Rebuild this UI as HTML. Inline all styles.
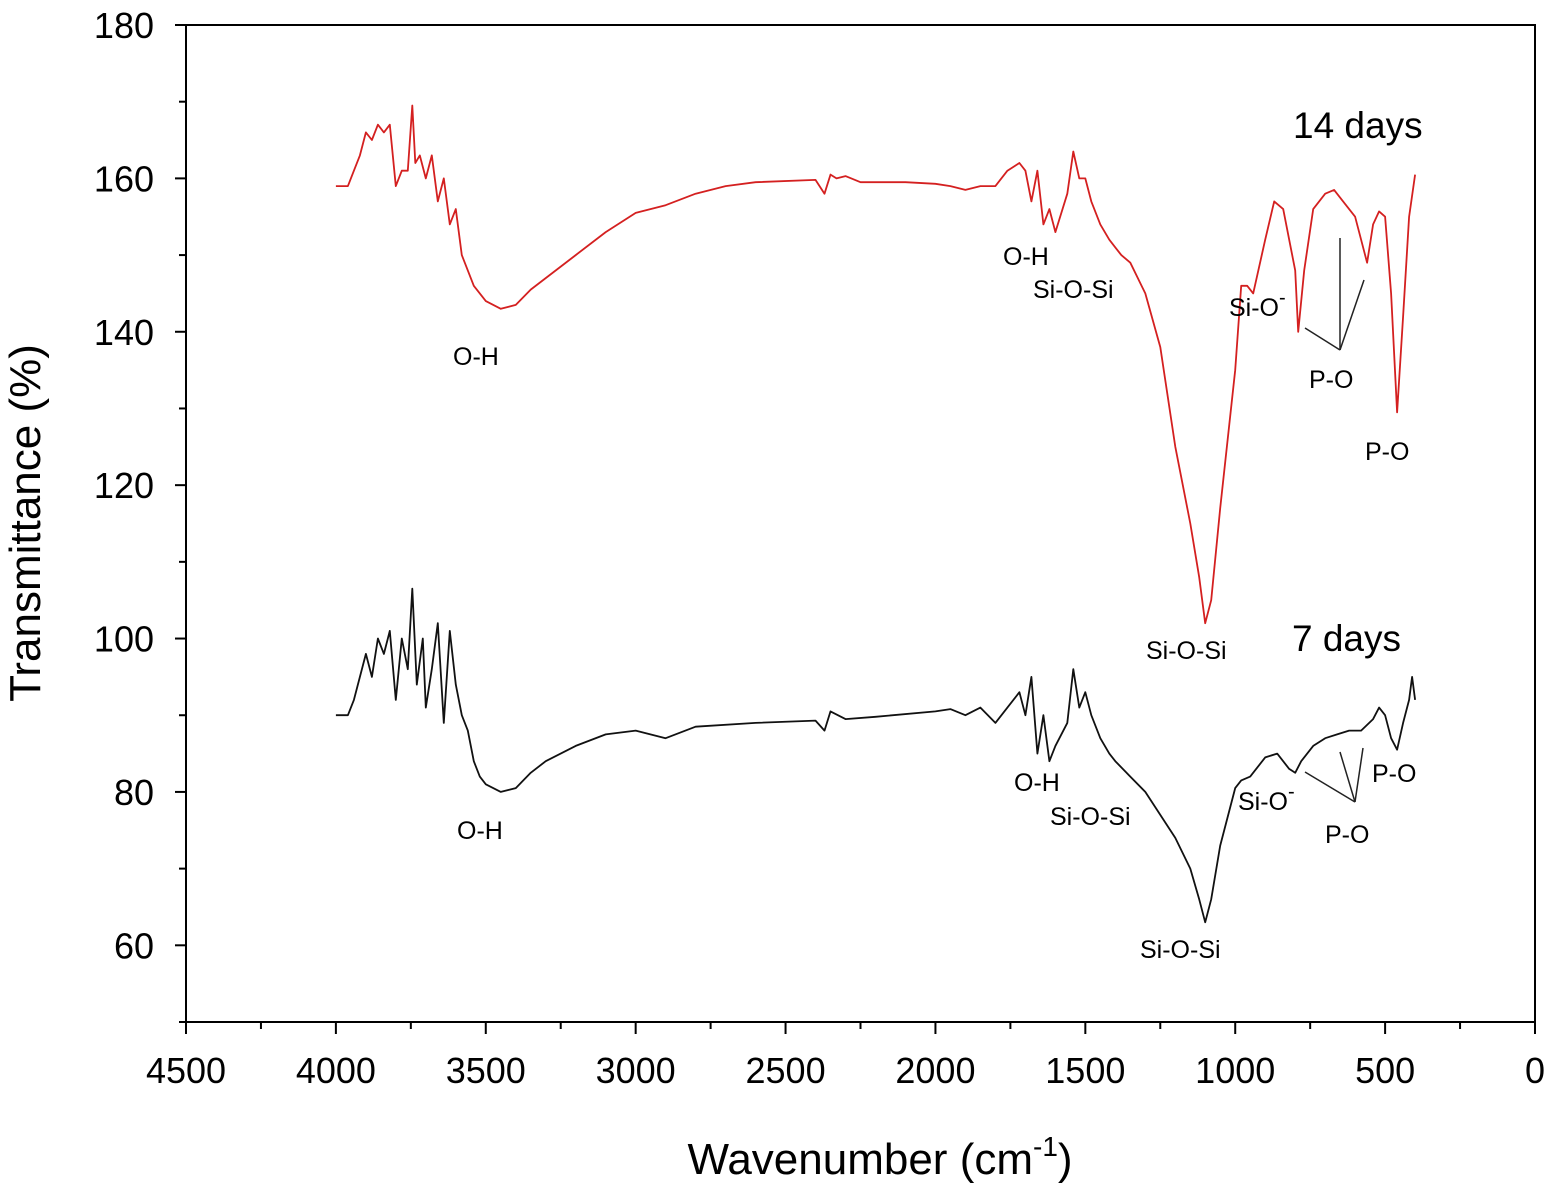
<!DOCTYPE html>
<html><head><meta charset="utf-8"><style>
body{margin:0;background:#fff}
svg text{font-family:"Liberation Sans",Arial,sans-serif;fill:#000}
</style></head><body>
<svg id="chart" width="1549" height="1185" xmlns="http://www.w3.org/2000/svg">
<rect x="186" y="25" width="1349" height="997" fill="none" stroke="#000" stroke-width="2"/>
<g id="ticks"></g>
<g id="series"></g>
<text x="40" y="523" font-size="44" text-anchor="middle" transform="rotate(-90 40 523)">Transmittance (%)</text>
<text x="880" y="1174" font-size="44" text-anchor="middle">Wavenumber (cm<tspan dy="-18" font-size="28">-1</tspan><tspan dy="18">)</tspan></text>
<g font-size="25">
<text x="1293" y="138" font-size="37">14 days</text>
<text x="1292" y="651" font-size="37">7 days</text>
<text x="453" y="365">O-H</text>
<text x="1003" y="265">O-H</text>
<text x="1033" y="298">Si-O-Si</text>
<text x="1229" y="316">Si-O<tspan dy="-12" font-size="20">-</tspan></text>
<text x="1309" y="388">P-O</text>
<text x="1365" y="460">P-O</text>
<text x="1146" y="659">Si-O-Si</text>
<text x="457" y="839">O-H</text>
<text x="1014" y="791">O-H</text>
<text x="1050" y="825">Si-O-Si</text>
<text x="1238" y="810">Si-O<tspan dy="-12" font-size="20">-</tspan></text>
<text x="1325" y="843">P-O</text>
<text x="1372" y="782">P-O</text>
<text x="1140" y="958">Si-O-Si</text>
<g stroke="#222" stroke-width="1.5" fill="none">
<line x1="1340" y1="238" x2="1340" y2="350"/><line x1="1305" y1="328" x2="1340" y2="350"/><line x1="1340" y1="350" x2="1364" y2="280"/>
<line x1="1355" y1="802" x2="1305" y2="772"/><line x1="1355" y1="802" x2="1340" y2="752"/><line x1="1355" y1="802" x2="1363" y2="748"/>
</g></g>
</svg>
<script>
const xTicks=[4500,4000,3500,3000,2500,2000,1500,1000,500,0];
const yTicks=[60,80,100,120,140,160,180];
const redWn=[4000,3960,3940,3920,3900,3880,3860,3840,3820,3800,3780,3760,3745,3735,3720,3700,3680,3660,3640,3620,3600,3580,3560,3540,3500,3450,3400,3350,3300,3200,3100,3000,2900,2800,2700,2600,2400,2370,2350,2330,2300,2250,2100,2000,1950,1900,1850,1800,1760,1720,1700,1680,1660,1640,1620,1600,1560,1540,1520,1500,1480,1450,1420,1400,1380,1350,1300,1250,1200,1150,1120,1100,1080,1050,1000,980,960,940,900,870,840,800,790,770,740,700,670,640,600,580,560,540,520,500,480,460,440,420,400];
const redT=[159,159,161,163,166,165,167,166,167,159,161,161,169.5,162,163,160,163,157,160,154,156,150,148,146,144,143,143.5,145.5,147,150,153,155.5,156.5,158,159,159.5,159.8,158,160.5,160,160.3,159.5,159.5,159.3,159,158.5,159,159,161,162,161,157,161,154,156,153,158,163.5,160,160,157,154,152,151,150,149,145,138,125,115,108,102,105,117,135,146,146,145,152,157,156,148,140,148,156,158,158.5,157,155,152,149,154,155.7,155,145,129.5,142,155,160.5];
const blackWn=[4000,3960,3940,3920,3900,3880,3860,3840,3820,3800,3780,3760,3745,3730,3710,3700,3680,3660,3640,3620,3600,3580,3560,3540,3520,3500,3450,3400,3350,3300,3200,3100,3000,2900,2800,2600,2400,2370,2350,2300,2200,2000,1950,1900,1850,1800,1760,1720,1700,1680,1660,1640,1620,1600,1560,1540,1520,1500,1480,1450,1420,1400,1350,1300,1250,1200,1150,1120,1100,1080,1050,1000,980,950,900,860,820,800,780,740,700,660,620,580,540,520,500,480,460,440,420,410,400];
const blackT=[90,90,92,95,98,95,100,98,101,92,100,96,106.5,94,100,91,96,102,89,101,94,90,88,84,82,81,80,80.5,82.5,84,86,87.5,88,87,88.5,89,89.3,88,90.5,89.5,89.8,90.5,90.8,90,91,89,91,93,90,95,85,90,84,86,89,96,91,93,90,87,85,84,82,80,77,74,70,66,63,66,73,80.5,81.5,82,84.5,85,83,82.5,84,86,87,87.5,88,88,89.5,91,90,87,85.5,89,92,95,92];
const X=w=>186+(4500-w)*1349/4500;
const Y=v=>25+(180-v)*(997/130);
const ns="http://www.w3.org/2000/svg";
const tg=document.getElementById('ticks');
function mk(tag,attrs,parent){const e=document.createElementNS(ns,tag);for(const k in attrs)e.setAttribute(k,attrs[k]);parent.appendChild(e);return e;}
xTicks.forEach(w=>{
 const l=mk('line',{x1:X(w),x2:X(w),y1:1022,y2:1034,stroke:'#000','stroke-width':2},tg);
 
 
 const t=mk('text',{x:X(w),y:1083,'font-size':36,'text-anchor':'middle'},tg);t.textContent=w;
 
 
 if(w>0){const m=mk('line',{x1:X(w-250),x2:X(w-250),y1:1022,y2:1029,stroke:'#000','stroke-width':2},tg);
 
 }
});
yTicks.forEach(v=>{
 const l=mk('line',{x1:175,x2:186,y1:Y(v),y2:Y(v),stroke:'#000','stroke-width':2},tg);
 
 
 const t=mk('text',{x:154,y:Y(v)+13,'font-size':36,'text-anchor':'end'},tg);t.textContent=v;
 
 
 const m=mk('line',{x1:179,x2:186,y1:Y(v-10),y2:Y(v-10),stroke:'#000','stroke-width':2},tg);
 
 
});
const sg=document.getElementById('series');
[[redWn,redT,'#d42020','series-14-days'],[blackWn,blackT,'#111','series-7-days']].forEach(([w,t,c,n])=>{
 const d=w.map((v,i)=>(i?'L':'M')+X(v).toFixed(1)+','+Y(t[i]).toFixed(1)).join('');
 const p=mk('path',{d:d,fill:'none',stroke:c,'stroke-width':1.8,'stroke-linejoin':'round'},sg);
 
 
});
</script>
</body></html>
